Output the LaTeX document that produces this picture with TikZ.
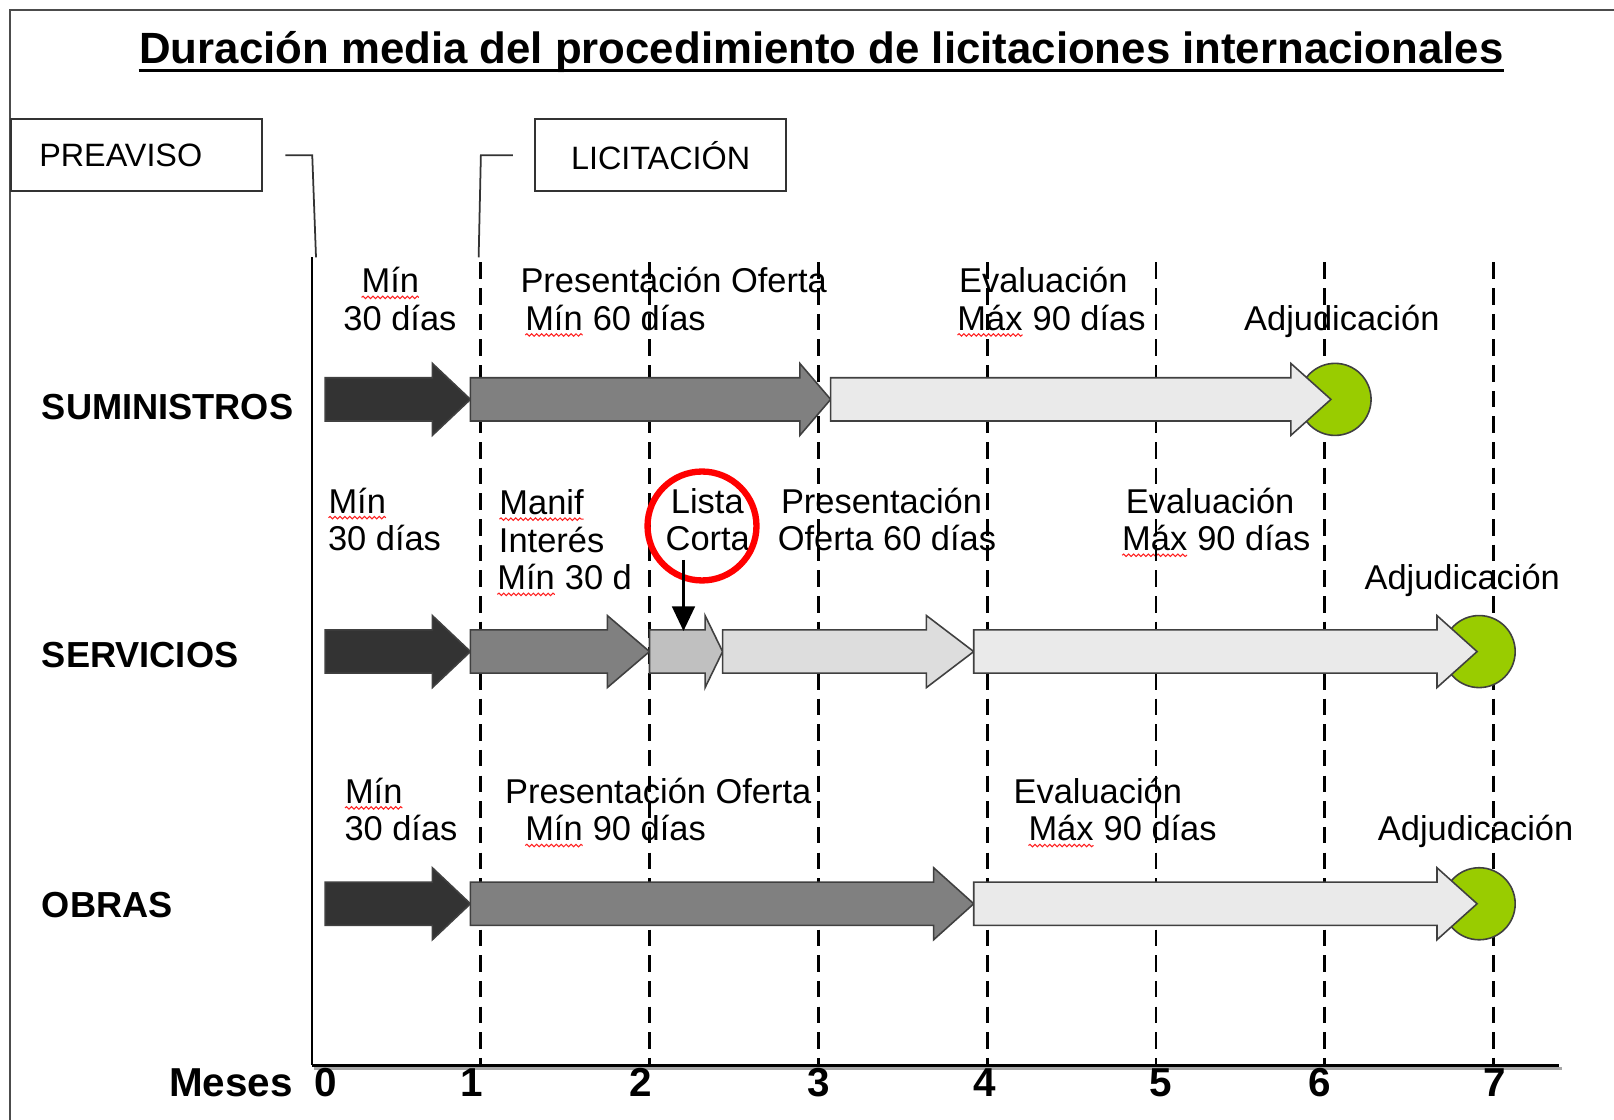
\documentclass[tikz,border=0pt]{standalone}
\usepackage{fontspec}
\setmainfont{Liberation Sans}
\usetikzlibrary{arrows.meta,decorations.pathmorphing}
\definecolor{arrdark}{HTML}{333333}
\definecolor{arrmid}{HTML}{808080}
\definecolor{arrshort}{HTML}{C0C0C0}
\definecolor{arrpale}{HTML}{DDDDDD}
\definecolor{arrlight}{HTML}{EAEAEA}
\definecolor{adjgreen}{HTML}{99CC00}
\definecolor{spellred}{HTML}{FF2020}
\tikzset{
  >=Stealth,
  % base anchor of a multi-line label is the baseline of its last line
  lbl/.style={inner sep=0pt,align=left,anchor=base west,font=\fontsize{9.8}{10.7}\selectfont},
  rowlbl/.style={inner sep=0pt,anchor=west,font=\bfseries\fontsize{10.3}{12}\selectfont},
  axislbl/.style={inner sep=0pt,font=\bfseries\fontsize{11.5}{13}\selectfont},
  phasebox/.style={draw=black!80,line width=0.5pt,anchor=north west,minimum height=20.5pt,
    text width=55.4pt,inner xsep=8pt,font=\fontsize{9.2}{11}\selectfont},
  monthline/.style={line width=0.8pt,dash pattern=on 4.7pt off 2.6pt},
  adjdot/.style={circle,draw=black!75,line width=0.45pt,fill=adjgreen,minimum size=20.5pt,inner sep=0pt},
  lcring/.style={circle,draw=red,line width=1.8pt,minimum size=31pt,inner sep=0pt},
  bracket/.style={line width=0.5pt,black!80},
}
% block arrow: fill, tail x, tip x, centre y, head length
\newcommand\blockarrow[5]{%
  \filldraw[fill=#1,draw=black!75,line width=0.45pt]
    (#2,#4-21) -- (#3-#5,#4-21) -- (#3-#5,#4-35) -- (#3,#4)
    -- (#3-#5,#4+35) -- (#3-#5,#4+21) -- (#2,#4+21) -- cycle;}
% red wavy spell-check mark under a word
\newcommand\spell[1]{\tikz[baseline=(sp.base)]{\node[inner sep=0pt,outer sep=0pt] (sp) {#1};
  \draw[spellred,line width=0.3pt,decorate,decoration={snake,amplitude=0.35pt,segment length=1.4pt}]
    ([yshift=-1.3pt]sp.base west) -- ([yshift=-1.3pt]sp.base east);}}

\begin{document}
\begin{tikzpicture}[x=0.10293mm,y=-0.10293mm]
  \useasboundingbox (0,0) rectangle (1568,1088);
  \draw[black!70,line width=0.6pt] (10,1088) -- (10,10) -- (1568,10);

  % title
  \node[inner sep=0pt,anchor=base,font=\bfseries\fontsize{12.45}{15}\selectfont] (title) at (798,62)
    {Duración media del procedimiento de licitaciones internacionales};
  \draw[line width=0.9pt] ([yshift=-1.9pt]title.base west) -- ([yshift=-1.9pt]title.base east);

  % phases
  \node[phasebox,align=left] (preaviso) at (10,115) {PREAVISO};
  \node[phasebox,align=center] (licit) at (519,115) {LICITACIÓN};
  \coordinate (preend) at (307,250);
  \coordinate (licend) at (465,250);
  \draw[bracket] ([xshift=6.4pt]preaviso.east) -- ++(26,0) -- (preend);
  \draw[bracket] ([xshift=-6.1pt]licit.west) -- ++(-31,0) -- (licend);

  % row labels
  \node[rowlbl] (sum) at (40,395) {SUMINISTROS};
  \node[rowlbl] (ser) at (40,636) {SERVICIOS};
  \node[rowlbl] (obr) at (40,879) {OBRAS};

  % suministros texts
  \node[lbl] (s1) at (333,321) {\hspace*{5pt}\spell{Mín}\\30 días};
  \node[lbl] (s2) at (505,321) {Presentación Oferta\\\hspace*{1.2pt}\spell{Mín} 60 días};
  \node[lbl] (s3) at (929,321) {\hspace*{0.6pt}Evaluación\\\spell{Máx} 90 días};
  \node[lbl] (s4) at (1208,321) {Adjudicación};
  % servicios texts
  \node[lbl] (v1) at (318,535) {\spell{Mín}\\30 días};
  \node[lbl] (v2) at (482,573) {\hspace*{0.6pt}\spell{Manif}\\\hspace*{0.6pt}Interés\\\spell{Mín} 30 d};
  \node[lbl] (v3) at (646,535) {\hspace*{1.5pt}Lista\\Corta};
  \node[lbl] (v4) at (755,535) {\hspace*{0.9pt}Presentación\\Oferta 60 días};
  \node[lbl] (v5) at (1089,535) {\hspace*{1.2pt}Evaluación\\\spell{Máx} 90 días};
  \node[lbl] (v6) at (1325,573) {Adjudicación};
  % obras texts
  \node[lbl] (o1) at (334,817) {\spell{Mín}\\30 días};
  \node[lbl] (o2) at (490,817) {Presentación Oferta\\\hspace*{5.6pt}\spell{Mín} 90 días};
  \node[lbl] (o3) at (984,817) {Evaluación\\\hspace*{4.1pt}\spell{Máx} 90 días};
  \node[lbl] (o4) at (1338,817) {Adjudicación};

  % axes and month lines
  \draw[line width=0.6pt] (303,250) -- (303,1035);
  \foreach \m in {1,...,7}
    \draw[monthline] (303+164*\m,255) -- (303+164*\m,1035);
  \draw[black!35,line width=0.9pt] (305,1038) -- (1517,1038);
  \draw[line width=0.9pt] (303,1035) -- (1515,1035);
  \node[axislbl,anchor=east] (meses) at (285,1052) {Meses};
  \foreach \n/\x in {0/316,1/458,2/622,3/795,4/957,5/1128,6/1282,7/1452}
    \node[axislbl] (m\n) at (\x,1052) {\n};

  % award points
  \node[adjdot] (adj1) at (1297,388) {};
  \node[adjdot] (adj2) at (1437,633) {};
  \node[adjdot] (adj3) at (1437,878) {};

  % suministros
  \blockarrow{arrdark}{316}{457}{388}{37}
  \blockarrow{arrmid}{457}{807}{388}{30}
  \blockarrow{arrlight}{807}{1293}{388}{39}
  % servicios
  \blockarrow{arrdark}{316}{457}{633}{37}
  \blockarrow{arrmid}{457}{631}{633}{41}
  \blockarrow{arrshort}{631}{702}{633}{17}
  \blockarrow{arrpale}{702}{946}{633}{46}
  \blockarrow{arrlight}{946}{1435}{633}{39}
  % obras
  \blockarrow{arrdark}{316}{457}{878}{37}
  \blockarrow{arrmid}{457}{946}{878}{39}
  \blockarrow{arrlight}{946}{1435}{878}{39}

  % short list mark
  \node[lcring] (ring) at (682,511) {};
  \coordinate (lcdrop) at (664,544);
  \coordinate (lctop) at (664,613);
  \draw[line width=0.6pt,-{Triangle[length=7pt,width=6.5pt]}] (lcdrop) -- (lctop);
\end{tikzpicture}
\end{document}
